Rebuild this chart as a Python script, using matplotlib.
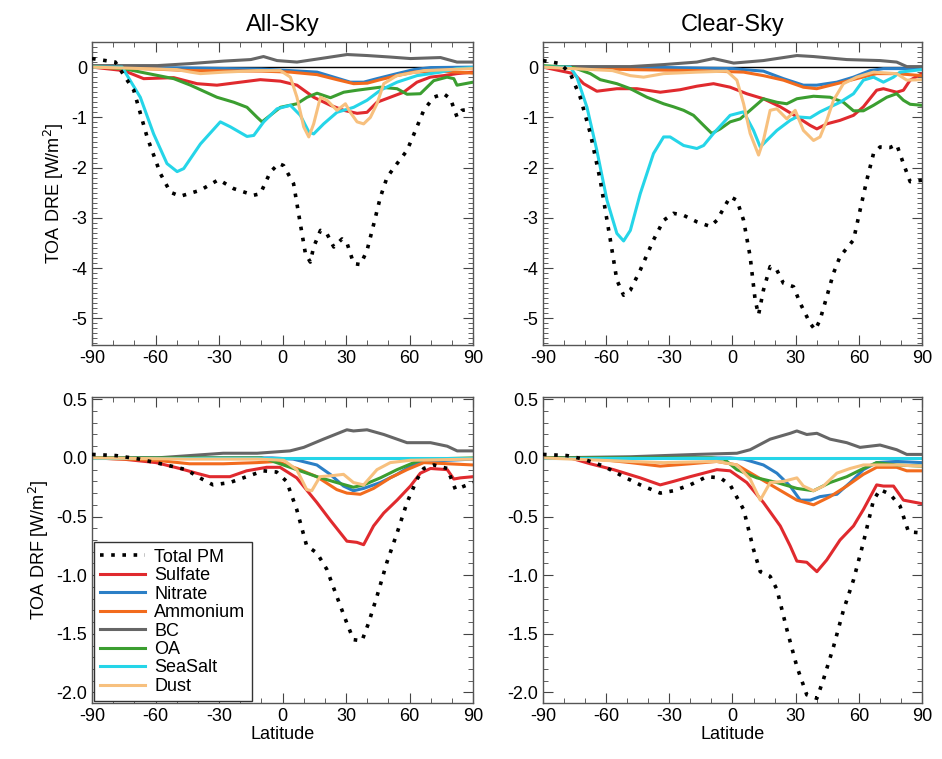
import matplotlib
matplotlib.use('Agg')
import matplotlib.pyplot as plt
from matplotlib.ticker import MultipleLocator

plt.rcParams['font.family'] = ['Liberation Sans', 'DejaVu Sans']

species = ['Total PM', 'Sulfate', 'Nitrate', 'Ammonium', 'BC', 'OA', 'SeaSalt', 'Dust']
colors = ['black', '#e02a2e', '#2b7fc6', '#f26b1d', '#666666', '#3b9e30', '#25d5e8', '#f7c07e']
xticks = [-90, -60, -30, 0, 30, 60, 90]
titles = ['All-Sky', 'Clear-Sky']

# ---- All-sky DRE (lat, value) ----
dre_all_total = [(-90, 0.17), (-79, 0.1), (-70.3, -0.46), (-64, -1.39), (-57.7, -2.12), (-53, -2.49), (-48.3, -2.57),
                 (-38.8, -2.45), (-30.2, -2.24), (-23, -2.42), (-13.6, -2.55), (-10.5, -2.52), (-5.8, -2.09),
                 (-1.8, -1.92), (0.5, -1.96), (5.2, -2.32), (8.4, -3.12), (10.8, -3.71), (13.1, -3.88),
                 (14.7, -3.58), (17.9, -3.25), (21, -3.32), (24.2, -3.58), (28.1, -3.42), (30.5, -3.51),
                 (33.6, -3.91), (36.8, -3.93), (39.9, -3.65), (43.1, -3.12), (46.2, -2.59), (49.4, -2.19),
                 (54.1, -1.92), (58.8, -1.66), (62.8, -1.26), (66.7, -0.86), (71.4, -0.6), (76.1, -0.53),
                 (79.3, -0.63), (82.4, -0.99), (84.8, -0.86), (90, -0.83)]
dre_all_sulfate = [(-90, 0), (-75, -0.07), (-65.6, -0.23), (-51.4, -0.21), (-40.4, -0.33), (-31, -0.36),
                   (-19.9, -0.3), (-10.5, -0.25), (-1, -0.28), (6.8, -0.36), (14.7, -0.6), (22.6, -0.76),
                   (28.9, -0.86), (35.2, -0.92), (39.9, -0.9), (44.6, -0.7), (50.9, -0.6), (57.2, -0.5),
                   (63.5, -0.3), (69.8, -0.2), (76, -0.17), (82.4, -0.13), (90, -0.1)]
dre_all_nitrate = [(-90, 0), (-40, -0.02), (-10, -0.04), (3.7, -0.07), (16.3, -0.1), (24.2, -0.2), (32, -0.3),
                   (38.3, -0.3), (44.6, -0.23), (54.1, -0.13), (62, -0.05), (70, -0.01), (90, 0)]
dre_all_ammonium = [(-90, 0), (-60, -0.04), (-43.5, -0.07), (-10, -0.08), (3.7, -0.1), (16.3, -0.15),
                    (25.7, -0.25), (33.6, -0.33), (40, -0.32), (46.2, -0.25), (54, -0.17), (62, -0.1),
                    (74, -0.08), (90, -0.12)]
dre_all_bc = [(-90, 0.03), (-59, 0.03), (-43.5, 0.07), (-27.6, 0.12), (-15, 0.15), (-9, 0.21), (-2.6, 0.13),
              (6.8, 0.1), (17.9, 0.17), (30.5, 0.25), (40, 0.23), (50.9, 0.2), (60.4, 0.17), (74.6, 0.19),
              (82.4, 0.1), (90, 0.1)]
dre_all_oa = [(-90, 0.01), (-75, -0.03), (-67, -0.1), (-51.4, -0.23), (-43.5, -0.36), (-31, -0.6), (-23, -0.7),
              (-16.8, -0.8), (-12, -1.0), (-9.7, -1.09), (-5.8, -0.96), (-1, -0.8), (6.8, -0.73), (11.6, -0.6),
              (16.3, -0.52), (22.6, -0.61), (28.9, -0.5), (35.2, -0.46), (46.2, -0.4), (54.1, -0.43),
              (58.8, -0.54), (65.1, -0.53), (71.4, -0.27), (77.7, -0.2), (80.9, -0.23), (82.4, -0.36), (90, -0.3)]
dre_all_seasalt = [(-90, 0), (-75.8, 0), (-67.2, -0.6), (-60.9, -1.33), (-54.6, -1.92), (-49.8, -2.08),
                   (-46.7, -2.02), (-38.8, -1.53), (-29.4, -1.09), (-24.6, -1.19), (-16.8, -1.38), (-13.6, -1.36),
                   (-8.9, -1.09), (-2.6, -0.83), (3.7, -0.76), (8.4, -0.96), (12.4, -1.29), (14.7, -1.33),
                   (19.4, -1.13), (25.7, -0.9), (33.6, -0.8), (39.9, -0.66), (46.2, -0.46), (54.1, -0.3),
                   (63.5, -0.17), (74.6, -0.1), (82.4, -0.03), (90, -0.01)]
dre_all_dust = [(-90, 0), (-50, -0.05), (-43.5, -0.1), (-38.8, -0.13), (-27.6, -0.1), (-12, -0.07), (-1, -0.07),
                (3.7, -0.2), (6.8, -0.6), (10, -1.19), (12.4, -1.39), (14.7, -1.13), (17.9, -0.6), (21, -0.66),
                (25.7, -0.86), (29.7, -0.73), (32, -0.9), (35.2, -1.09), (38.3, -1.13), (41.5, -1.0),
                (44.6, -0.73), (47.8, -0.33), (54, -0.17), (66.7, -0.07), (90, -0.03)]

# ---- Clear-sky DRE ----
dre_clr_total = [(-90, 0.13), (-81.8, 0.07), (-77, -0.13), (-72.3, -0.6), (-67.5, -1.32), (-62.8, -2.25),
                 (-58, -3.44), (-54.9, -4.24), (-51.7, -4.54), (-48.5, -4.44), (-43.8, -4.04), (-37.5, -3.44),
                 (-32.7, -3.05), (-28, -2.91), (-23.2, -2.95), (-16.9, -3.08), (-10.6, -3.17), (-7.4, -3.05),
                 (-1.1, -2.58), (2.1, -2.65), (5.3, -3.05), (8.4, -3.77), (10.8, -4.64), (12.4, -4.93),
                 (14.7, -4.44), (17.9, -3.97), (21.1, -4.04), (24.2, -4.3), (29, -4.37), (32.2, -4.7),
                 (36.9, -5.1), (39.3, -5.23), (41.6, -5.03), (44.8, -4.57), (48, -4.1), (51.1, -3.77),
                 (57.5, -3.44), (60.6, -2.85), (63.8, -2.25), (67, -1.72), (70.1, -1.59), (74.9, -1.6),
                 (78, -1.54), (81.2, -1.92), (84.4, -2.28), (90, -2.25)]
dre_clr_sulfate = [(-90, 0), (-75.4, -0.13), (-70.7, -0.33), (-64.4, -0.48), (-54.9, -0.43), (-45.4, -0.43),
                   (-34.3, -0.5), (-24.8, -0.45), (-16.9, -0.38), (-9, -0.33), (-1.1, -0.4), (6.8, -0.53),
                   (14.7, -0.63), (22.7, -0.79), (30.6, -0.99), (36.9, -1.16), (40.1, -1.23), (44.8, -1.13),
                   (51.1, -1.06), (57.5, -0.96), (62.2, -0.79), (68.5, -0.46), (71.7, -0.43), (78, -0.5),
                   (81.2, -0.46), (84.4, -0.26), (90, -0.13)]
dre_clr_nitrate = [(-90, 0), (-30, -0.01), (0, -0.03), (5.3, -0.05), (14.7, -0.08), (24.2, -0.23), (33.7, -0.36),
                   (40, -0.36), (49.6, -0.3), (57.5, -0.2), (65.4, -0.07), (71.7, -0.03), (90, -0.03)]
dre_clr_ammonium = [(-90, 0), (-48.5, -0.05), (-16.9, -0.07), (5.3, -0.1), (14.7, -0.17), (24.2, -0.26),
                    (33.7, -0.4), (40, -0.43), (49.6, -0.33), (59, -0.23), (68.5, -0.13), (78, -0.13),
                    (90, -0.17)]
dre_clr_bc = [(-90, 0.01), (-48.5, 0.01), (-32.7, 0.05), (-16.9, 0.1), (-9, 0.17), (0.6, 0.08), (14.7, 0.13),
              (30.6, 0.23), (38.5, 0.21), (54.3, 0.15), (70.1, 0.13), (78, 0.1), (82.8, 0.01), (90, 0.01)]
dre_clr_oa = [(-90, 0.03), (-75.4, -0.01), (-67.5, -0.13), (-62.8, -0.25), (-54.9, -0.33), (-48.5, -0.43),
              (-40.6, -0.6), (-32.7, -0.73), (-28, -0.79), (-23.2, -0.86), (-18.5, -0.96), (-13.7, -1.16),
              (-9.8, -1.32), (-5.8, -1.23), (-1.1, -1.09), (3.7, -1.03), (8.4, -0.86), (14.7, -0.63),
              (21.1, -0.7), (25.8, -0.73), (30.6, -0.63), (38.5, -0.58), (46.4, -0.6), (52.7, -0.7),
              (57.5, -0.87), (62.2, -0.87), (67, -0.76), (73.3, -0.6), (78, -0.53), (81.2, -0.66),
              (84.4, -0.74), (90, -0.76)]
dre_clr_seasalt = [(-90, 0), (-77, 0), (-73.9, -0.2), (-69.1, -0.8), (-64.4, -1.66), (-59.6, -2.65),
                   (-54.9, -3.31), (-51.7, -3.46), (-48.5, -3.25), (-43.8, -2.52), (-37.5, -1.72), (-32.7, -1.39),
                   (-29.6, -1.39), (-23.2, -1.56), (-16.9, -1.62), (-13.7, -1.56), (-9, -1.32), (-1.1, -0.96),
                   (5.3, -0.89), (10, -1.26), (13.2, -1.59), (16.3, -1.46), (21.1, -1.26), (27.4, -1.06),
                   (30.6, -0.99), (36.9, -1.01), (41.6, -0.89), (51.1, -0.7), (57.5, -0.53), (62.2, -0.26),
                   (67, -0.2), (71.7, -0.3), (76.5, -0.2), (79.6, -0.1), (90, -0.05)]
dre_clr_dust = [(-90, 0), (-57, -0.07), (-48.5, -0.17), (-42.2, -0.2), (-32.7, -0.13), (-16.9, -0.1),
                (-2.6, -0.08), (2.1, -0.26), (5.3, -0.73), (8.4, -1.32), (12.4, -1.75), (14.7, -1.46),
                (17.9, -0.86), (21.1, -0.83), (25.8, -1.03), (29.8, -0.86), (33.7, -1.26), (38.5, -1.46),
                (41.6, -1.39), (44.8, -1.06), (48, -0.66), (52.7, -0.33), (59, -0.2), (67, -0.1), (78, -0.13),
                (82.8, -0.26), (90, -0.25)]

# ---- All-sky DRF ----
drf_all_total = [(-90, 0.03), (-78.6, 0.02), (-67.6, -0.01), (-54.9, -0.06), (-45.5, -0.1), (-39.1, -0.17),
                 (-32.8, -0.23), (-24.9, -0.21), (-17, -0.16), (-9.1, -0.11), (-2.8, -0.12), (1.9, -0.2),
                 (6.7, -0.44), (11.4, -0.75), (16.2, -0.81), (20.9, -0.95), (25.6, -1.18), (30.4, -1.41),
                 (33.5, -1.55), (37.5, -1.56), (40.6, -1.41), (44.6, -1.18), (49.3, -0.89), (54.1, -0.64),
                 (58.8, -0.38), (63.6, -0.18), (66.7, -0.09), (71.5, -0.06), (77.8, -0.09), (81.7, -0.27),
                 (90, -0.21)]
drf_all_sulfate = [(-90, 0), (-75.5, -0.01), (-59.7, -0.04), (-48.6, -0.09), (-40.7, -0.13), (-34.4, -0.16),
                   (-24.9, -0.16), (-17, -0.11), (-7.5, -0.08), (-1.2, -0.08), (6.7, -0.17), (16.2, -0.38),
                   (22.5, -0.53), (30.4, -0.71), (35.1, -0.72), (38.3, -0.74), (43, -0.58), (47.8, -0.47),
                   (54.1, -0.36), (60.4, -0.24), (65.1, -0.13), (69.9, -0.09), (77.8, -0.1), (80.9, -0.18),
                   (84, -0.17), (90, -0.16)]
drf_all_nitrate = [(-90, 0), (-5, 0), (5, -0.01), (16.2, -0.06), (22.5, -0.14), (28.8, -0.24), (33.5, -0.28),
                   (38.3, -0.26), (46.2, -0.21), (54.1, -0.14), (60.4, -0.07), (66.7, -0.03), (90, -0.01)]
drf_all_ammonium = [(-90, 0), (-59.7, -0.02), (-43.9, -0.05), (-28, -0.05), (-12, -0.04), (-2.8, -0.03),
                    (6.7, -0.09), (16.2, -0.16), (25.6, -0.27), (30.4, -0.3), (36.7, -0.31), (43, -0.26),
                    (50.9, -0.17), (58.8, -0.1), (66.7, -0.04), (90, -0.06)]
drf_all_bc = [(-90, 0), (-59.7, 0), (-43.9, 0.02), (-28, 0.04), (-12, 0.04), (3.5, 0.06), (10, 0.09),
              (19.3, 0.16), (30.4, 0.24), (33.5, 0.23), (39.9, 0.24), (47.8, 0.2), (58.8, 0.13), (69.9, 0.13),
              (77.8, 0.1), (82.5, 0.06), (90, 0.06)]
drf_all_oa = [(-90, 0), (-10, 0), (-7.5, -0.01), (-2.8, -0.04), (6.7, -0.1), (16.2, -0.16), (25.6, -0.21),
              (33.5, -0.25), (38.3, -0.23), (46.2, -0.17), (54.1, -0.1), (62, -0.04), (66.7, -0.01), (90, 0)]
drf_all_seasalt = [(-90, 0), (90, 0)]
drf_all_dust = [(-90, 0), (-43.9, -0.01), (-12, -0.01), (0.6, -0.02), (6.7, -0.1), (11.4, -0.27), (13.8, -0.28),
                (17.7, -0.16), (24, -0.15), (28.8, -0.14), (33.5, -0.21), (38.3, -0.23), (44.6, -0.1),
                (50.9, -0.04), (60.4, -0.02), (90, -0.01)]

# ---- Clear-sky DRF ----
drf_clr_total = [(-90, 0.03), (-78.6, 0.02), (-70.7, -0.01), (-61.2, -0.07), (-51.7, -0.16), (-43.8, -0.23),
                 (-34.3, -0.3), (-28, -0.28), (-20.1, -0.23), (-12.2, -0.16), (-5.8, -0.17), (-1.1, -0.23),
                 (5.3, -0.44), (10, -0.78), (13.2, -0.97), (17.9, -1.01), (21.1, -1.12), (25.8, -1.46),
                 (30.6, -1.78), (35.3, -2.02), (40.1, -2.05), (43.2, -1.89), (48, -1.61), (52.7, -1.3),
                 (57.5, -1.04), (62.2, -0.72), (67, -0.36), (70.1, -0.27), (74.9, -0.31), (79.6, -0.41),
                 (83.6, -0.63), (90, -0.64)]
drf_clr_sulfate = [(-90, 0), (-77, 0), (-67.5, -0.05), (-56.5, -0.1), (-43.8, -0.17), (-34.3, -0.23),
                   (-28, -0.2), (-20.1, -0.16), (-13.7, -0.13), (-7.4, -0.1), (-1.1, -0.11), (6.8, -0.21),
                   (14.7, -0.38), (22.7, -0.58), (27.4, -0.75), (30.6, -0.88), (35.3, -0.89), (40.1, -0.97),
                   (44.8, -0.87), (51.1, -0.7), (57.5, -0.58), (62.2, -0.44), (68.5, -0.23), (71.7, -0.24),
                   (76.5, -0.24), (81.2, -0.36), (90, -0.39)]
drf_clr_nitrate = [(-90, 0), (-1.1, 0), (5.3, -0.01), (14.7, -0.06), (21.1, -0.13), (27.4, -0.24),
                   (32.2, -0.36), (37, -0.36), (41.6, -0.33), (49.6, -0.31), (55.9, -0.21), (62.2, -0.1),
                   (68.5, -0.04), (78, -0.03), (90, -0.04)]
drf_clr_ammonium = [(-90, 0), (-64.4, -0.01), (-48.5, -0.04), (-34.3, -0.07), (-20.1, -0.05), (-7.4, -0.03),
                    (2.1, -0.06), (11.6, -0.16), (21.1, -0.26), (30.6, -0.36), (38.5, -0.4), (46.4, -0.33),
                    (54.3, -0.24), (62.2, -0.14), (68.5, -0.08), (78, -0.08), (82.8, -0.11), (90, -0.11)]
drf_clr_bc = [(-90, 0), (-48.5, 0.01), (-32.7, 0.02), (-16.9, 0.03), (2.1, 0.04), (8.4, 0.07), (17.9, 0.16),
              (27.4, 0.21), (30.6, 0.23), (35.3, 0.2), (40.1, 0.21), (46.4, 0.16), (54.3, 0.13), (60.6, 0.09),
              (70.1, 0.11), (78, 0.07), (82.8, 0.03), (90, 0.03)]
drf_clr_oa = [(-90, 0), (-10, 0), (-4, -0.01), (2.1, -0.1), (11.6, -0.17), (21.1, -0.21), (30.6, -0.26),
              (38.5, -0.28), (46.4, -0.21), (54.3, -0.16), (62.2, -0.09), (68.5, -0.04), (78, -0.06),
              (90, -0.07)]
drf_clr_seasalt = [(-90, 0), (90, 0)]
drf_clr_dust = [(-90, 0), (-48.5, -0.03), (-32.7, -0.04), (-7.4, -0.03), (2.1, -0.06), (8.4, -0.18),
                (13.2, -0.36), (17.9, -0.21), (24.2, -0.2), (30.6, -0.17), (33.7, -0.24), (38.5, -0.28),
                (43.2, -0.24), (49.6, -0.13), (55.9, -0.09), (62.2, -0.06), (78, -0.06), (90, -0.07)]

panels = [
    [dre_all_total, dre_all_sulfate, dre_all_nitrate, dre_all_ammonium, dre_all_bc, dre_all_oa, dre_all_seasalt, dre_all_dust],
    [dre_clr_total, dre_clr_sulfate, dre_clr_nitrate, dre_clr_ammonium, dre_clr_bc, dre_clr_oa, dre_clr_seasalt, dre_clr_dust],
    [drf_all_total, drf_all_sulfate, drf_all_nitrate, drf_all_ammonium, drf_all_bc, drf_all_oa, drf_all_seasalt, drf_all_dust],
    [drf_clr_total, drf_clr_sulfate, drf_clr_nitrate, drf_clr_ammonium, drf_clr_bc, drf_clr_oa, drf_clr_seasalt, drf_clr_dust],
]

fig = plt.figure(figsize=(9.42, 7.59), dpi=100)
rects = [[0.0977, 0.5455, 0.4045, 0.3992], [0.5764, 0.5455, 0.4023, 0.3992],
         [0.0977, 0.0738, 0.4045, 0.4032], [0.5764, 0.0738, 0.4023, 0.4032]]

for i, (rect, series) in enumerate(zip(rects, panels)):
    ax = fig.add_axes(rect)
    top = i < 2
    if top:
        ax.axhline(0, color='black', lw=1.0, zorder=1)
    # species first, total on top
    for name, col, s in list(zip(species, colors, series))[1:]:
        lat = [p[0] for p in s]
        val = [p[1] for p in s]
        ax.plot(lat, val, color=col, lw=2.2, label=name, zorder=2, solid_joinstyle='round')
    s = series[0]
    ax.plot([p[0] for p in s], [p[1] for p in s], color='black', lw=2.6, ls=(0, (1.0, 2.1)),
            dash_capstyle='butt', label='Total PM', zorder=3)

    ax.set_xlim(-90, 90)
    ax.set_xticks(xticks)
    ax.set_xticklabels([str(t) for t in xticks])
    ax.xaxis.set_minor_locator(MultipleLocator(10))
    if top:
        ax.set_ylim(-5.53, 0.5)
        ax.set_yticks([0, -1, -2, -3, -4, -5])
        ax.set_yticklabels(['0', '-1', '-2', '-3', '-4', '-5'])
        ax.yaxis.set_minor_locator(MultipleLocator(0.1))
        ax.set_title(titles[i], fontsize=17, pad=8)
    else:
        ax.set_ylim(-2.09, 0.52)
        yt = [0.5, 0.0, -0.5, -1.0, -1.5, -2.0]
        ax.set_yticks(yt)
        ax.set_yticklabels(['%.1f' % v for v in yt])
        ax.yaxis.set_minor_locator(MultipleLocator(0.1))
        ax.set_xlabel('Latitude', fontsize=13, labelpad=1)
    ax.tick_params(which='both', direction='in', top=True, right=True, labelsize=13, colors='#444444',
                   labelcolor='black')
    ax.tick_params(which='major', length=7)
    ax.tick_params(which='minor', length=3.5)
    for sp in ax.spines.values():
        sp.set_color('#555555')
        sp.set_linewidth(1.0)
    if i == 0:
        ax.set_ylabel('TOA DRE [W/m$^2$]', fontsize=13)
    if i == 2:
        ax.set_ylabel('TOA DRF [W/m$^2$]', fontsize=13)
        h, l = ax.get_legend_handles_labels()
        order = [l.index(n) for n in species]
        leg = ax.legend([h[k] for k in order], [l[k] for k in order], loc='lower left', fontsize=13,
                        handlelength=2.5, handletextpad=0.5, labelspacing=0.08, borderpad=0.35,
                        fancybox=False, framealpha=1, edgecolor='#333333', borderaxespad=0.1)
        leg.get_frame().set_linewidth(1.0)

fig.savefig('out.png', dpi=100)
